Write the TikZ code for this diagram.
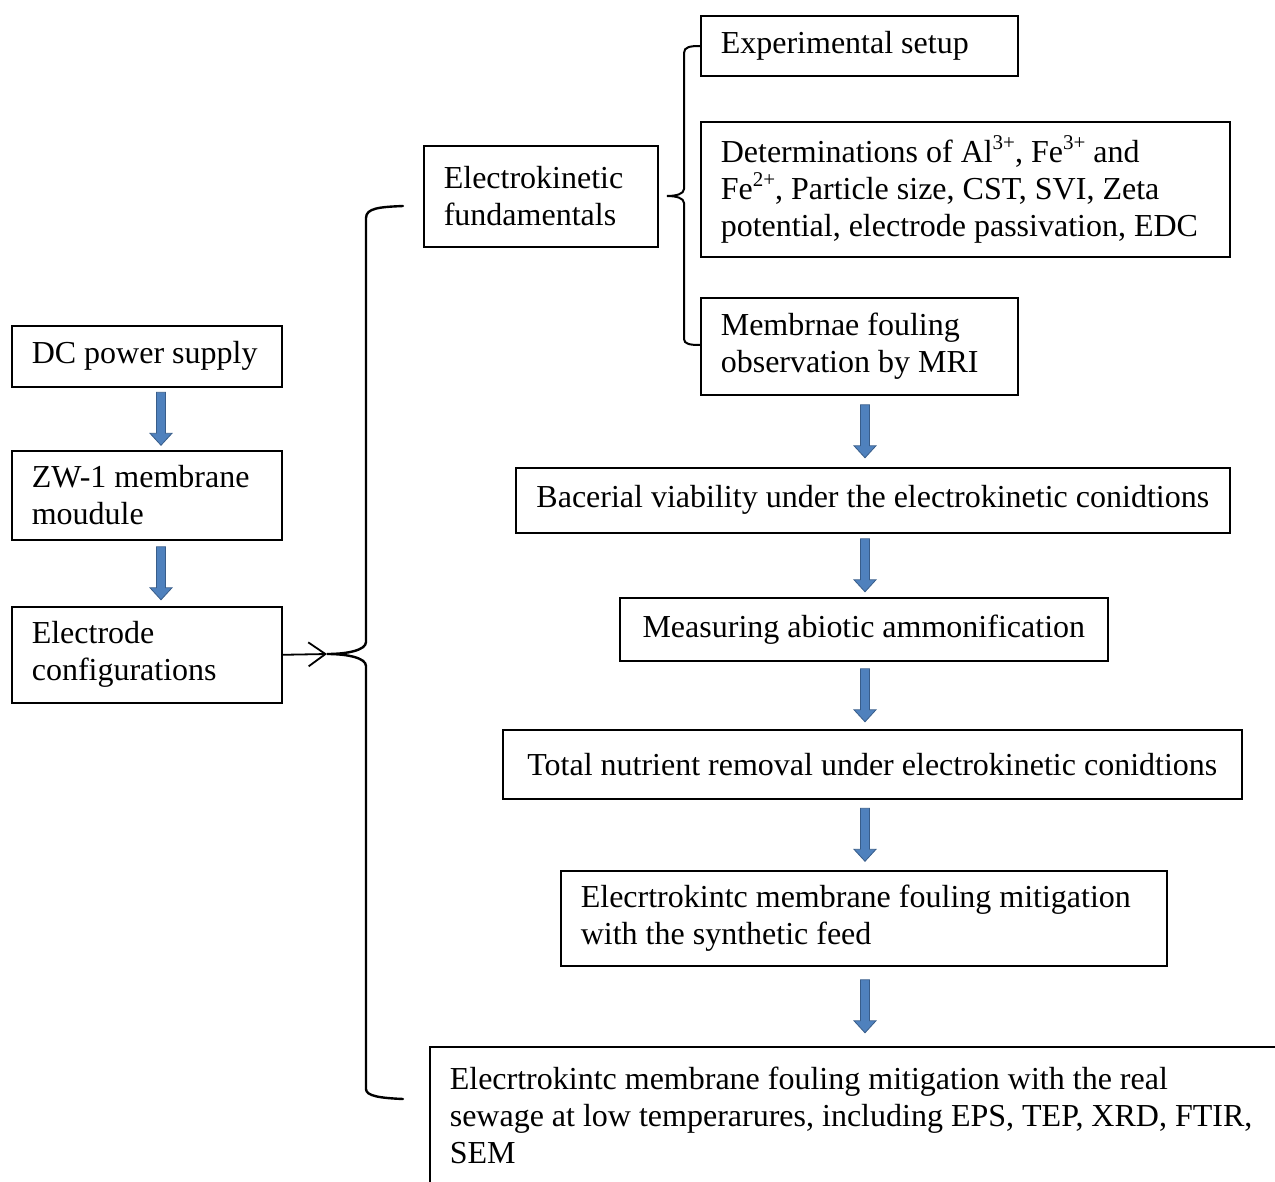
\documentclass[tikz,border=0pt]{standalone}
\usepackage{fontspec}
\setmainfont{Liberation Serif}
\usetikzlibrary{arrows.meta,calc}

\definecolor{arrowblue}{RGB}{79,129,189}
\definecolor{arrowedge}{RGB}{56,93,138}

\newcommand{\sups}[1]{\raisebox{0.42em}{\fontsize{21}{21}\selectfont #1}}

\tikzset{
  box/.style={draw, line width=1.6pt, anchor=north west, align=flush left,
    inner xsep=20pt, inner ysep=0pt,
    font=\fontsize{32}{37}\selectfont},
  blockarrow/.style={fill=arrowblue, draw=arrowedge, line width=0.8pt,
    to path={let \p1=(\tikztostart), \p2=(\tikztotarget),
      \p3=($(\p1)!0.5!(\p2)$) in
      (\x1-4.5pt,\y3+26.5pt) -- (\x1+4.5pt,\y3+26.5pt) -- (\x1+4.5pt,\y3-14.5pt)
      -- (\x1+11pt,\y3-14.5pt) -- (\x1,\y3-26.5pt) -- (\x1-11pt,\y3-14.5pt)
      -- (\x1-4.5pt,\y3-14.5pt) -- cycle}},
  brace/.style={line width=2.4pt, line cap=round}
}

\begin{document}
\begin{tikzpicture}[x=1pt, y=-1pt]
    \useasboundingbox (0,0) rectangle (1275,1182);

    \node[box, text width=230, minimum height=61] (dc) at (11,325) {DC power supply};
    \node[box, text width=230, minimum height=89] (zw) at (11,450) {ZW-1 membrane\\moudule};
    \node[box, text width=230, minimum height=96] (elec) at (11,606) {Electrode\\configurations};

    \node[box, text width=194, minimum height=101] (fund) at (423,145) {Electrokinetic\\fundamentals};

    \node[box, text width=277, minimum height=60] (setup) at (700,15) {Experimental setup};
    \node[box, text width=489, minimum height=135] (determ) at (700,121)
        {Determinations of Al\sups{3+}, Fe\sups{3+} and\\
         Fe\sups{2+}, Particle size, CST, SVI, Zeta\\
         potential, electrode passivation, EDC};
    \node[box, text width=277, minimum height=97] (mri) at (700,297) {Membrnae fouling\\observation by MRI};

    \node[box, minimum width=714, minimum height=65] (bact) at (515,467)
        {Bacerial viability under the electrokinetic conidtions};
    \node[box, minimum width=488, minimum height=63] (meas) at (619,597)
        {Measuring abiotic ammonification};
    \node[box, minimum width=739, minimum height=69] (total) at (502,729)
        {Total nutrient removal under electrokinetic conidtions};
    \node[box, text width=566, minimum height=95] (synth) at (560,870)
        {Elecrtrokintc membrane fouling mitigation\\with the synthetic feed};
    \node[box, text width=860, minimum height=138] (real) at (429,1046)
        {Elecrtrokintc membrane fouling mitigation with the real\\
         sewage at low temperarures, including EPS, TEP, XRD, FTIR,\\
         SEM};

    \coordinate (lx) at (161,0);
    \coordinate (rx) at (865,0);
    \coordinate (bigtip) at (327,654);

    \foreach \a/\b in {dc/zw, zw/elec}
        \draw[blockarrow] (lx |- \a.south) to (lx |- \b.north);
    \foreach \a/\b in {mri/bact, bact/meas, meas/total, total/synth, synth/real}
        \draw[blockarrow] (rx |- \a.south) to (rx |- \b.north);

    \draw[brace] (403,206) .. controls (380,207) and (366,208) .. (366,218) -- (366,642)
        .. controls (366,650) and (348,654) .. (bigtip)
        .. controls (348,654) and (366,658) .. (366,666) -- (366,1089)
        .. controls (366,1096) and (380,1098) .. (403,1099);
    \draw[brace, line width=2pt] (700,46) .. controls (690,46) and (684,47) .. (684,53) -- (684,189)
        .. controls (684,194) and (676,196) .. (667,196)
        .. controls (676,196) and (684,198) .. (684,203) -- (684,339)
        .. controls (684,344) and (690,345) .. (700,345);

    \draw[-{Straight Barb[length=17pt,width=24pt]}, line width=1.8pt] (elec.east) -- (bigtip);
\end{tikzpicture}
\end{document}
